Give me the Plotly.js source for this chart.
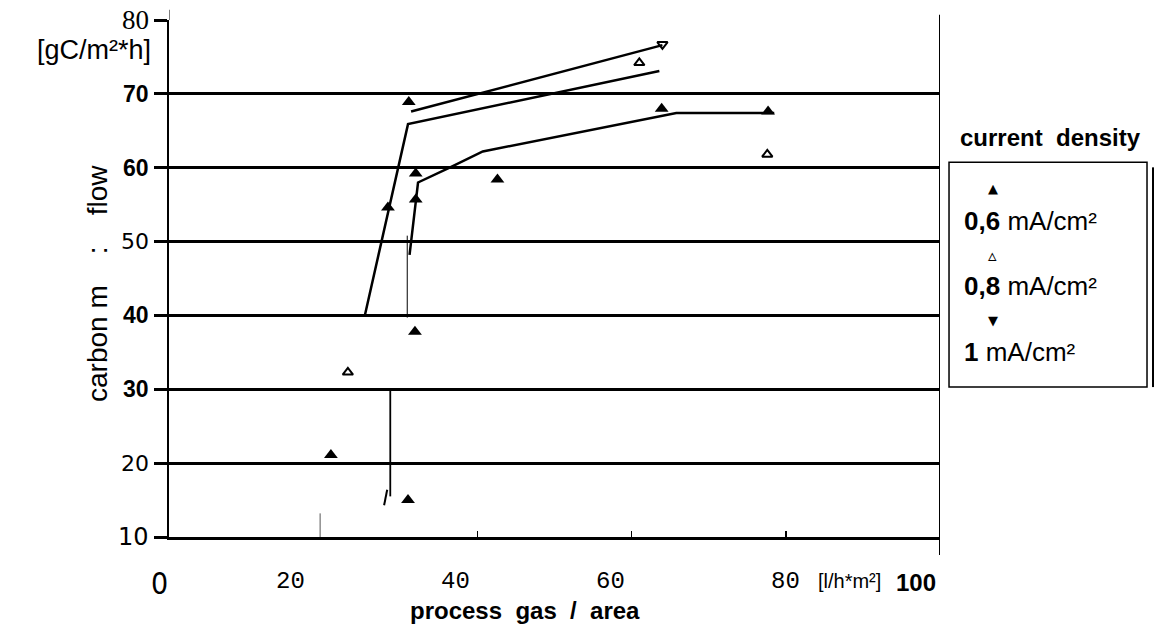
<!DOCTYPE html>
<html>
<head>
<meta charset="utf-8">
<script src="https://cdn.plot.ly/plotly-3.0.1.min.js"></script>
<style>html,body{margin:0;padding:0;background:#fff;}#chart{width:1156px;height:631px;}</style>
</head>
<body>
<div id="chart"></div>
<script>
// ---- data ----
const seriesNames = ['0,6 mA/cm²', '0,8 mA/cm²', '1 mA/cm²'];
const s06x = [21.0, 31.0, 28.4, 31.1, 32.0, 32.0, 31.9, 42.6, 63.9, 77.7];
const s06y = [21.1, 15.0, 54.6, 68.9, 59.2, 55.7, 37.8, 58.4, 68.0, 67.6];
const s08x = [23.2, 61.0, 77.6];
const s08y = [32.3, 74.2, 61.8];
const s10x = [64.0];
const s10y = [76.7];

// hand-drawn trend lines
const l1x = [31.4, 64.0];
const l1y = [67.6, 76.6];
const l2x = [25.4, 31.0, 63.6];
const l2y = [40.0, 65.9, 73.1];
const l3x = [31.2, 32.3, 36.4, 40.7, 65.8, 78.5];
const l3y = [48.2, 58.0, 60.0, 62.2, 67.4, 67.4];
// thin vertical strokes
const t1x = [30.9, 30.9], t1y = [50.8, 39.7];
const t2x = [28.7, 28.7], t2y = [30.0, 15.5];
const t3x = [19.6, 19.6], t3y = [13.2, 10.0];
const t4x = [27.9, 28.3], t4y = [14.3, 16.4];

// tick labels
const yTickVals = [80, 70, 60, 50, 40, 30, 20, 10];
const yTickText = ['80', '70', '60', '50', '40', '30', '20', '10'];
const xLabelText = ['0', '20', '40', '60', '80'];
const xLabelPos = [-1.2, 15.8, 37.2, 57.3, 79.9];

const lineStyle = {color: '#000', width: 2.5};
const traces = [
  {x: l1x, y: l1y, mode: 'lines', line: lineStyle, hoverinfo: 'skip'},
  {x: l2x, y: l2y, mode: 'lines', line: lineStyle, hoverinfo: 'skip'},
  {x: l3x, y: l3y, mode: 'lines', line: lineStyle, hoverinfo: 'skip'},
  {x: t1x, y: t1y, mode: 'lines', line: {color: '#000', width: 1}, hoverinfo: 'skip'},
  {x: t2x, y: t2y, mode: 'lines', line: {color: '#000', width: 1.8}, hoverinfo: 'skip'},
  {x: t3x, y: t3y, mode: 'lines', line: {color: '#555', width: 1}, hoverinfo: 'skip'},
  {x: t4x, y: t4y, mode: 'lines', line: {color: '#000', width: 2}, hoverinfo: 'skip'},
  {x: s06x, y: s06y, name: seriesNames[0], mode: 'markers',
   marker: {symbol: 'triangle-up', size: 12, color: '#000'}},
  {x: s08x, y: s08y, name: seriesNames[1], mode: 'markers',
   marker: {symbol: 'triangle-up-open', size: 9, color: '#000', line: {width: 2}}},
  {x: s10x, y: s10y, name: seriesNames[2], mode: 'markers',
   marker: {symbol: 'triangle-down-open', size: 9, color: '#000', line: {width: 2}}}
];

const sans = 'Liberation Sans, Arial, sans-serif';
const ann = [];
const yFonts = {
  '80': {family: 'Liberation Serif, serif', size: 27, color: '#000'},
  '70': {family: sans, size: 23, color: '#000', weight: 'bold'},
  '60': {family: sans, size: 23, color: '#000', weight: 'bold'},
  '50': {family: 'DejaVu Sans, sans-serif', size: 22, color: '#000'},
  '40': {family: sans, size: 23, color: '#000', weight: 'bold'},
  '30': {family: sans, size: 23, color: '#000', weight: 'bold'},
  '20': {family: 'DejaVu Sans, sans-serif', size: 22, color: '#000'},
  '10': {family: 'DejaVu Sans, sans-serif', size: 24, color: '#000'}
};
yTickVals.forEach((v, i) => {
  ann.push({x: 0, y: v, xref: 'x', yref: 'y', text: yTickText[i], showarrow: false,
    xanchor: 'right', yanchor: 'middle', xshift: -18, font: yFonts[yTickText[i]]});
});
// x tick labels (paper coords so the one left of the axis is kept)
xLabelText.forEach((t, i) => {
  ann.push({x: xLabelPos[i] / 100, y: 0, xref: 'paper', yref: 'paper', text: t, showarrow: false,
    xanchor: 'center', yanchor: 'top', yshift: i === 0 ? -27 : -29,
    font: i === 0 ? {family: 'Liberation Sans Narrow, DejaVu Sans Condensed, sans-serif', size: 30, color: '#000'}
                  : {family: 'Liberation Mono, DejaVu Sans Mono, monospace', size: 24, color: '#000'}});
});
ann.push({x: 0.882, y: 0, xref: 'paper', yref: 'paper', text: '[l/h*m²]', showarrow: false,
  xanchor: 'center', yanchor: 'top', yshift: -31, font: {family: sans, size: 20, color: '#000'}});
ann.push({x: 0.969, y: 0, xref: 'paper', yref: 'paper', text: '<b>100</b>', showarrow: false,
  xanchor: 'center', yanchor: 'top', yshift: -30, font: {family: sans, size: 24, color: '#000'}});
// axis titles / units
ann.push({x: 0, y: 80, xref: 'x', yref: 'y', text: '[gC/m²*h]', showarrow: false,
  xanchor: 'right', yanchor: 'middle', xshift: -16, yshift: -30, font: {family: sans, size: 27, color: '#000'}});
ann.push({xref: 'paper', yref: 'paper', x: -0.093, y: 0.49, text: 'carbon m    :    flow', textangle: -90,
  showarrow: false, xanchor: 'center', yanchor: 'middle', font: {family: sans, size: 28, color: '#000'}});
ann.push({xref: 'paper', yref: 'paper', x: 0.462, y: -0.143, text: '<b>process  gas  /  area</b>',
  showarrow: false, xanchor: 'center', yanchor: 'middle', font: {family: sans, size: 24, color: '#000'}});
// legend (drawn by hand to match the stacked layout)
ann.push({xref: 'paper', yref: 'paper', x: 1.143, y: 0.772, text: '<b>current  density</b>', showarrow: false,
  xanchor: 'center', yanchor: 'middle', font: {family: sans, size: 24, color: '#000'}});
const legSym = ['▲', '▵', '▼'];
const legText = ['<b>0,6</b> mA/cm²', '<b>0,8</b> mA/cm²', '<b>1</b> mA/cm²'];
const legSymY = [0.674, 0.545, 0.419];
const legTextY = [0.612, 0.486, 0.357];
legSym.forEach((s, i) => {
  ann.push({xref: 'paper', yref: 'paper', x: 1.0685, y: legSymY[i], text: s, showarrow: false,
    xanchor: 'center', yanchor: 'middle', font: {family: 'DejaVu Sans, sans-serif', size: i === 1 ? 17 : 13, color: '#000'}});
  ann.push({xref: 'paper', yref: 'paper', x: 1.0285, y: legTextY[i], text: legText[i], showarrow: false,
    xanchor: 'left', yanchor: 'middle', font: {family: sans, size: 26, color: '#000'}});
});

const shapes = [
  {type: 'line', xref: 'x', yref: 'paper', x0: 0, x1: 0, y0: 1, y1: 1.02, line: {color: '#555', width: 1.5}},
  {type: 'line', xref: 'x', yref: 'paper', x0: 100, x1: 100, y0: -0.035, y1: 1.01, line: {color: '#000', width: 2}},
  {type: 'rect', xref: 'paper', yref: 'paper', x0: 1.0117, x1: 1.2685, y0: 0.29, y1: 0.725, line: {color: '#000', width: 1.5}},
  {type: 'line', xref: 'paper', yref: 'paper', x0: 1.2763, x1: 1.2763, y0: 0.29, y1: 0.715, line: {color: '#000', width: 2}}
];

const layout = {
  width: 1156, height: 631,
  margin: {l: 169, r: 216, t: 20, b: 94, pad: 0},
  paper_bgcolor: '#fff', plot_bgcolor: '#fff',
  showlegend: false,
  xaxis: {range: [0, 100], showgrid: false, zeroline: false,
    showline: true, linecolor: '#000', linewidth: 3.2,
    tickvals: [40, 60, 80], ticks: 'inside', ticklen: 6, tickwidth: 1.5, tickcolor: '#000',
    showticklabels: false},
  yaxis: {range: [10, 80], tickvals: yTickVals, showticklabels: false,
    showgrid: true, gridcolor: '#000', gridwidth: 3.2, zeroline: false,
    showline: true, linecolor: '#000', linewidth: 2,
    ticks: 'outside', ticklen: 13, tickwidth: 3, tickcolor: '#000'},
  annotations: ann,
  shapes: shapes
};
Plotly.newPlot('chart', traces, layout, {staticPlot: true, displayModeBar: false});
</script>
</body>
</html>
